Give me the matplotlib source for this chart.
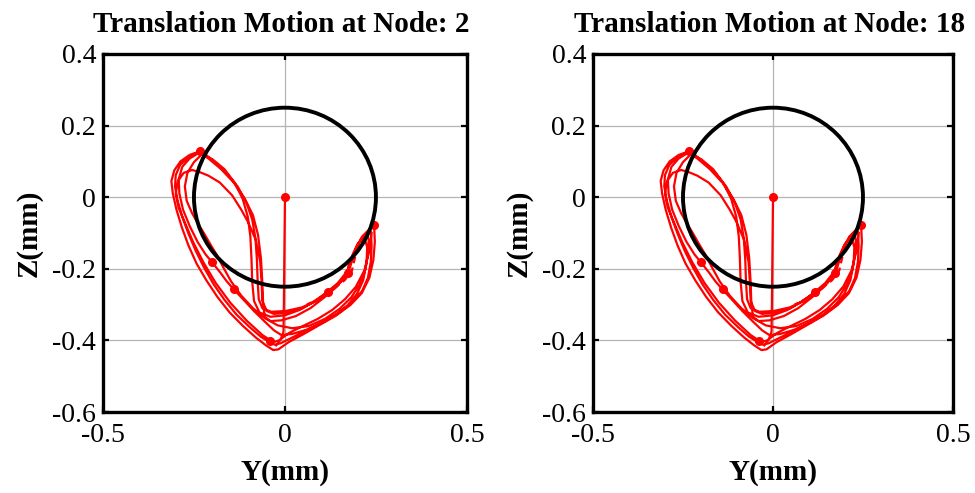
import matplotlib
matplotlib.use("Agg")
import matplotlib.pyplot as plt
from matplotlib.patches import Circle

plt.rcParams['font.family'] = ['Liberation Serif', 'DejaVu Serif']

# ---------------- data ----------------
node_titles = ["Translation Motion at Node: 2", "Translation Motion at Node: 18"]
x_ticks = [-0.5, 0, 0.5]
x_tick_labels = ["-0.5", "0", "0.5"]
y_ticks = [0.4, 0.2, 0, -0.2, -0.4, -0.6]
y_tick_labels = ["0.4", "0.2", "0", "-0.2", "-0.4", "-0.6"]
clearance_radius = 0.25

# initial transient (vertical drop from centre)
start_y = [0.000, 0.000, -0.001, -0.002, -0.003, -0.004, -0.012, -0.024]
start_z = [0.000, -0.010, -0.100, -0.200, -0.300, -0.376, -0.398, -0.414]

loop1_y = [-0.234, -0.262, -0.287, -0.304, -0.312, -0.308, -0.298, -0.283, -0.265, -0.243,
           -0.216, -0.186, -0.152, -0.115, -0.080, -0.052, -0.032, -0.018, 0.010, 0.050,
           0.095, 0.140, 0.180, 0.211, 0.232, 0.243, 0.247, 0.245, 0.232, 0.214,
           0.197, 0.184, 0.174, 0.152, 0.122, 0.086, 0.046, 0.002, -0.038, -0.062,
           -0.072, -0.075, -0.077, -0.081, -0.090, -0.106, -0.130, -0.160, -0.195, -0.222, -0.238]
loop1_z = [0.128, 0.118, 0.100, 0.075, 0.045, 0.010, -0.035, -0.085, -0.135, -0.185,
           -0.232, -0.278, -0.322, -0.360, -0.392, -0.414, -0.427, -0.425, -0.405, -0.383,
           -0.357, -0.331, -0.301, -0.268, -0.225, -0.175, -0.125, -0.080, -0.090, -0.110,
           -0.140, -0.178, -0.212, -0.238, -0.265, -0.290, -0.308, -0.318, -0.320, -0.310,
           -0.285, -0.235, -0.175, -0.115, -0.062, -0.015, 0.030, 0.067, 0.100, 0.122, 0.130]

loop2_y = [-0.238, -0.265, -0.288, -0.300, -0.302, -0.295, -0.282, -0.265, -0.245, -0.222,
           -0.196, -0.166, -0.133, -0.098, -0.066, -0.042, -0.028, -0.012, 0.020, 0.060,
           0.105, 0.148, 0.185, 0.212, 0.228, 0.236, 0.238, 0.236, 0.222, 0.205,
           0.190, 0.178, 0.165, 0.140, 0.108, 0.070, 0.030, -0.010, -0.040, -0.055,
           -0.060, -0.062, -0.066, -0.074, -0.088, -0.110, -0.140, -0.175, -0.210, -0.234]
loop2_z = [0.126, 0.112, 0.090, 0.062, 0.030, -0.010, -0.055, -0.102, -0.150, -0.197,
           -0.243, -0.287, -0.328, -0.362, -0.390, -0.405, -0.412, -0.408, -0.392, -0.372,
           -0.349, -0.323, -0.293, -0.262, -0.225, -0.180, -0.135, -0.095, -0.105, -0.125,
           -0.155, -0.190, -0.222, -0.252, -0.280, -0.310, -0.332, -0.344, -0.346, -0.335,
           -0.300, -0.240, -0.170, -0.105, -0.050, -0.005, 0.040, 0.078, 0.108, 0.124]

loop3_y = [-0.236, -0.262, -0.282, -0.292, -0.290, -0.280, -0.262, -0.240, -0.218, -0.200,
           -0.178, -0.160, -0.140, -0.115, -0.085, -0.055, -0.030, -0.010, 0.020, 0.060,
           0.100, 0.140, 0.172, 0.198, 0.215, 0.224, 0.226, 0.218, 0.200, 0.186,
           0.175, 0.172, 0.150, 0.117, 0.080, 0.040, 0.000, -0.040, -0.070, -0.085,
           -0.090, -0.092, -0.095, -0.102, -0.116, -0.138, -0.166, -0.198, -0.226]
loop3_z = [0.124, 0.108, 0.085, 0.050, 0.010, -0.035, -0.080, -0.125, -0.160, -0.182,
           -0.210, -0.235, -0.258, -0.285, -0.318, -0.348, -0.372, -0.385, -0.382, -0.370,
           -0.352, -0.328, -0.302, -0.270, -0.232, -0.185, -0.140, -0.112, -0.130, -0.160,
           -0.190, -0.212, -0.240, -0.266, -0.292, -0.315, -0.330, -0.334, -0.322, -0.290,
           -0.235, -0.170, -0.110, -0.055, -0.005, 0.040, 0.078, 0.105, 0.120]

loop4_y = [-0.226, -0.250, -0.268, -0.275, -0.270, -0.255, -0.238, -0.220, -0.203, -0.188,
           -0.170, -0.148, -0.120, -0.088, -0.055, -0.020, 0.020, 0.065, 0.110, 0.150,
           0.182, 0.205, 0.220, 0.228, 0.230, 0.226, 0.212, 0.196, 0.184, 0.170,
           0.145, 0.117, 0.085, 0.048, 0.008, -0.030, -0.050, -0.062, -0.064, -0.068,
           -0.080, -0.101, -0.120, -0.145, -0.179, -0.210, -0.234]
loop4_z = [0.122, 0.098, 0.068, 0.030, -0.010, -0.045, -0.075, -0.105, -0.135, -0.160,
           -0.195, -0.235, -0.275, -0.310, -0.338, -0.358, -0.366, -0.360, -0.340, -0.312,
           -0.280, -0.245, -0.205, -0.160, -0.120, -0.096, -0.110, -0.140, -0.175, -0.208,
           -0.240, -0.264, -0.288, -0.310, -0.322, -0.326, -0.318, -0.290, -0.240, -0.180,
           -0.120, -0.070, -0.035, 0.005, 0.041, 0.060, 0.070]

loop5_y = [-0.234, -0.255, -0.278, -0.294, -0.300, -0.292, -0.279, -0.252, -0.224, -0.190,
           -0.150, -0.105, -0.062, -0.032, -0.016, 0.010, 0.045, 0.090, 0.130, 0.165,
           0.195, 0.218, 0.232, 0.238]
loop5_z = [0.070, 0.076, 0.068, 0.045, 0.010, -0.030, -0.061, -0.126, -0.182, -0.240,
           -0.295, -0.345, -0.385, -0.405, -0.400, -0.380, -0.362, -0.340, -0.315, -0.285,
           -0.250, -0.205, -0.150, -0.100]

# sparsely sampled strand (appears dashed)
dash_y = [0.236, 0.220, 0.204, 0.192, 0.184, 0.164, 0.132, 0.095, 0.060]
dash_z = [-0.085, -0.105, -0.135, -0.170, -0.205, -0.232, -0.258, -0.282, -0.300]

# highlighted sample points
dot_y = [0.000, -0.234, 0.244, 0.172, 0.117, -0.200, -0.140, -0.040]
dot_z = [0.000, 0.128, -0.078, -0.212, -0.266, -0.182, -0.256, -0.402]

# ---------------- plot ----------------
fig = plt.figure(figsize=(9.75, 4.93), dpi=100)
axes = [fig.add_axes([0.1056, 0.1643, 0.3733, 0.7262]),
        fig.add_axes([0.6082, 0.1643, 0.3692, 0.7262])]

red = '#ff0000'
orbit_y = loop1_y + loop2_y + loop3_y + loop4_y + loop5_y
orbit_z = loop1_z + loop2_z + loop3_z + loop4_z + loop5_z

for ax, title in zip(axes, node_titles):
    ax.plot(start_y, start_z, color=red, lw=1.6, zorder=3)
    ax.plot(orbit_y, orbit_z, color=red, lw=1.6, zorder=3)
    ax.plot(dash_y, dash_z, color=red, lw=1.6, ls=(0, (3, 2)), zorder=3)
    ax.plot(dot_y, dot_z, ls='none', marker='o', ms=5.5, color=red, zorder=4)
    ax.add_patch(Circle((0, 0), clearance_radius, fill=False, ec='black', lw=2.8, zorder=5))

    ax.set_xlim(-0.5, 0.5)
    ax.set_ylim(-0.6, 0.4)
    ax.set_xticks(x_ticks)
    ax.set_xticklabels(x_tick_labels)
    ax.set_yticks(y_ticks)
    ax.set_yticklabels(y_tick_labels)
    ax.grid(True, color='#b4b4b4', lw=0.9)
    ax.set_axisbelow(True)
    ax.tick_params(direction='in', length=4, width=1.6, top=True, right=True,
                   labelsize=20, colors='black')
    ax.tick_params(axis='x', pad=8)
    ax.tick_params(axis='y', pad=5)
    for sp in ax.spines.values():
        sp.set_linewidth(2.4)
    ax.set_title(title, fontsize=21, fontweight='bold', pad=16, x=0.49)
    ax.set_xlabel('Y(mm)', fontsize=21, fontweight='bold', labelpad=8)
    ax.set_ylabel('Z(mm)', fontsize=21, fontweight='bold', labelpad=7)

fig.savefig('out.png', dpi=100)
